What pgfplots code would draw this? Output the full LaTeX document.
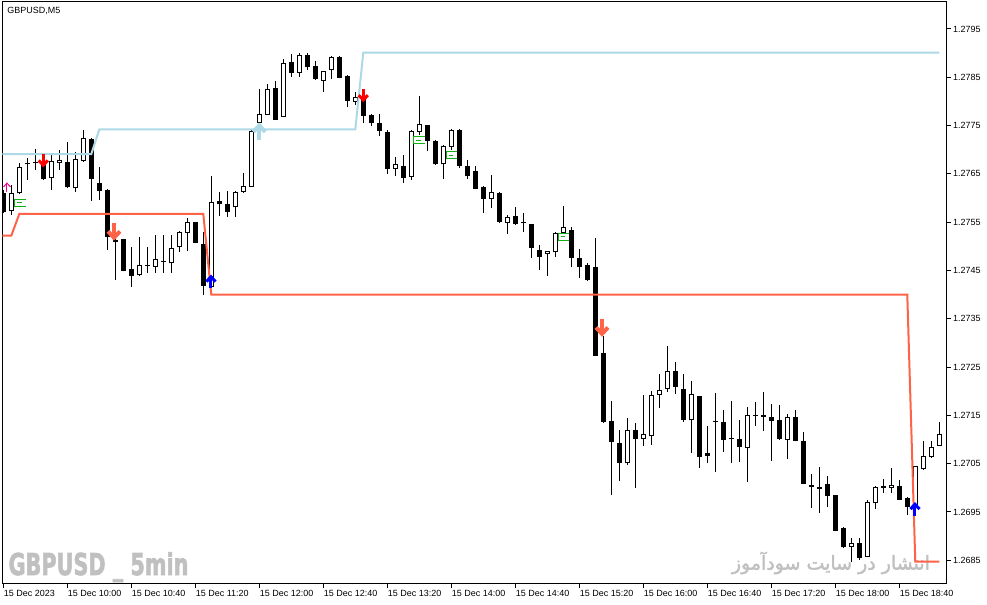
\documentclass[border=0pt]{standalone}
\usepackage{pgfplots}
\pgfplotsset{compat=1.18}
\usepackage{pgfplotstable}
\usepackage{graphicx}
\usepackage{fontspec}
\setmainfont{Liberation Sans}
\newfontfamily\arabicfont[Script=Arabic,FakeBold=2]{DejaVu Sans}
\newfontfamily\wmfont[BoldFeatures={FakeBold=2.5}]{DejaVu Sans}
\TeXXeTstate=1
\definecolor{lblue}{HTML}{ADD8E6}
\definecolor{tomatoc}{HTML}{FF6347}
\definecolor{wmgray}{HTML}{C0C0C0}
\definecolor{mkgreen}{HTML}{10B010}

\pgfdeclareplotmark{mtdown}{%
  \pgfpathmoveto{\pgfqpoint{0pt}{\pgfplotmarksize}}%
  \pgfpathlineto{\pgfqpoint{0pt}{-0.7\pgfplotmarksize}}%
  \pgfusepathqstroke
  \pgfpathmoveto{\pgfqpoint{-0.7\pgfplotmarksize}{0pt}}%
  \pgfpathlineto{\pgfqpoint{0pt}{-0.75\pgfplotmarksize}}%
  \pgfpathlineto{\pgfqpoint{0.7\pgfplotmarksize}{0pt}}%
  \pgfusepathqstroke}
\pgfdeclareplotmark{mtup}{%
  \pgfpathmoveto{\pgfqpoint{0pt}{-\pgfplotmarksize}}%
  \pgfpathlineto{\pgfqpoint{0pt}{0.7\pgfplotmarksize}}%
  \pgfusepathqstroke
  \pgfpathmoveto{\pgfqpoint{-0.7\pgfplotmarksize}{0pt}}%
  \pgfpathlineto{\pgfqpoint{0pt}{0.75\pgfplotmarksize}}%
  \pgfpathlineto{\pgfqpoint{0.7\pgfplotmarksize}{0pt}}%
  \pgfusepathqstroke}
\pgfdeclareplotmark{mtbracket}{%
  \pgfpathmoveto{\pgfqpoint{5.5bp}{3.5bp}}%
  \pgfpathlineto{\pgfqpoint{-5.5bp}{3.5bp}}%
  \pgfpathlineto{\pgfqpoint{-5.5bp}{-3.5bp}}%
  \pgfpathlineto{\pgfqpoint{5.5bp}{-3.5bp}}%
  \pgfpathmoveto{\pgfqpoint{-3bp}{0bp}}%
  \pgfpathlineto{\pgfqpoint{1.5bp}{0bp}}%
  \pgfusepathqstroke}

\pgfplotstableread{
i o h l c
0 1.27610 1.27617 1.27569 1.27571
1 1.27573 1.27627 1.27565 1.27610
2 1.27610 1.27673 1.27608 1.27664
3 1.27670 1.27683 1.27637 1.27670
4 1.27672 1.27702 1.27658 1.27672
5 1.27675 1.27691 1.27637 1.27639
6 1.27641 1.27691 1.27617 1.27677
7 1.27672 1.27699 1.27658 1.27679
8 1.27675 1.27716 1.27621 1.27623
9 1.27621 1.27695 1.27612 1.27681
10 1.27677 1.27741 1.27675 1.27724
11 1.27722 1.27724 1.27594 1.27639
12 1.27631 1.27664 1.27596 1.27615
13 1.27617 1.27618 1.27492 1.27519
14 1.27509 1.27528 1.27430 1.27513
15 1.27515 1.27516 1.27448 1.27449
16 1.27453 1.27499 1.27416 1.27439
17 1.27441 1.27519 1.27439 1.27461
18 1.27459 1.27499 1.27445 1.27459
19 1.27457 1.27523 1.27445 1.27474
20 1.27468 1.27523 1.27445 1.27468
21 1.27465 1.27523 1.27445 1.27497
22 1.27499 1.27531 1.27488 1.27530
23 1.27528 1.27559 1.27490 1.27550
24 1.27550 1.27551 1.27506 1.27507
25 1.27505 1.27530 1.27399 1.27418
26 1.27416 1.27646 1.27414 1.27592
27 1.27594 1.27612 1.27563 1.27588
28 1.27588 1.27615 1.27561 1.27571
29 1.27581 1.27615 1.27561 1.27612
30 1.27612 1.27652 1.27610 1.27625
31 1.27623 1.27740 1.27622 1.27739
32 1.27755 1.27826 1.27754 1.27774
33 1.27772 1.27836 1.27771 1.27826
34 1.27828 1.27842 1.27761 1.27762
35 1.27768 1.27888 1.27767 1.27880
36 1.27882 1.27898 1.27851 1.27859
37 1.27859 1.27900 1.27851 1.27896
38 1.27896 1.27900 1.27865 1.27871
39 1.27873 1.27884 1.27845 1.27846
40 1.27842 1.27864 1.27820 1.27863
41 1.27865 1.27894 1.27846 1.27892
42 1.27892 1.27894 1.27848 1.27849
43 1.27853 1.27854 1.27788 1.27801
44 1.27799 1.27820 1.27793 1.27809
45 1.27809 1.27820 1.27755 1.27770
46 1.27772 1.27774 1.27749 1.27755
47 1.27755 1.27774 1.27728 1.27739
48 1.27737 1.27741 1.27650 1.27660
49 1.27660 1.27685 1.27646 1.27670
50 1.27666 1.27689 1.27631 1.27641
51 1.27644 1.27740 1.27637 1.27739
52 1.27737 1.27811 1.27731 1.27753
53 1.27751 1.27752 1.27697 1.27718
54 1.27718 1.27720 1.27669 1.27670
55 1.27670 1.27709 1.27639 1.27708
56 1.27706 1.27743 1.27699 1.27741
57 1.27741 1.27742 1.27662 1.27666
58 1.27666 1.27679 1.27639 1.27646
59 1.27656 1.27666 1.27618 1.27619
60 1.27623 1.27625 1.27569 1.27598
61 1.27598 1.27648 1.27579 1.27612
62 1.27610 1.27612 1.27548 1.27550
63 1.27548 1.27565 1.27526 1.27561
64 1.27563 1.27581 1.27545 1.27546
65 1.27548 1.27569 1.27530 1.27548
66 1.27546 1.27547 1.27476 1.27497
67 1.27492 1.27503 1.27451 1.27478
68 1.27484 1.27491 1.27439 1.27490
69 1.27488 1.27529 1.27478 1.27528
70 1.27528 1.27584 1.27527 1.27540
71 1.27534 1.27540 1.27457 1.27476
72 1.27476 1.27494 1.27434 1.27457
73 1.27461 1.27465 1.27428 1.27430
74 1.27457 1.27517 1.27272 1.27273
75 1.27279 1.27314 1.27135 1.27136
76 1.27138 1.27180 1.26985 1.27095
77 1.27093 1.27120 1.27014 1.27051
78 1.27051 1.27145 1.27047 1.27120
79 1.27120 1.27134 1.27000 1.27101
80 1.27101 1.27192 1.27087 1.27111
81 1.27107 1.27200 1.27089 1.27192
82 1.27192 1.27236 1.27165 1.27203
83 1.27205 1.27294 1.27198 1.27242
84 1.27242 1.27261 1.27194 1.27209
85 1.27205 1.27236 1.27136 1.27140
86 1.27140 1.27221 1.27072 1.27194
87 1.27190 1.27191 1.27041 1.27064
88 1.27072 1.27128 1.27051 1.27066
89 1.27136 1.27196 1.27033 1.27136
90 1.27136 1.27161 1.27074 1.27099
91 1.27101 1.27180 1.27051 1.27101
92 1.27101 1.27140 1.27053 1.27085
93 1.27082 1.27167 1.27012 1.27151
94 1.27149 1.27178 1.27128 1.27149
95 1.27147 1.27198 1.27118 1.27151
96 1.27147 1.27174 1.27056 1.27138
97 1.27140 1.27171 1.27099 1.27101
98 1.27099 1.27153 1.27060 1.27147
99 1.27147 1.27161 1.27096 1.27097
100 1.27097 1.27116 1.27007 1.27008
101 1.27002 1.27029 1.26958 1.27006
102 1.27002 1.27043 1.26948 1.26998
103 1.27008 1.27024 1.26960 1.26983
104 1.26985 1.26986 1.26910 1.26911
105 1.26917 1.26918 1.26876 1.26877
106 1.26877 1.26896 1.26846 1.26886
107 1.26886 1.26896 1.26851 1.26855
108 1.26857 1.26975 1.26856 1.26971
109 1.26969 1.27003 1.26956 1.27002
110 1.27004 1.27018 1.26989 1.27000
111 1.27000 1.27041 1.26989 1.27006
112 1.27004 1.27016 1.26974 1.26975
113 1.26979 1.26981 1.26944 1.26960
114 1.26958 1.27046 1.26954 1.27045
115 1.27039 1.27097 1.27037 1.27066
116 1.27064 1.27097 1.27062 1.27085
117 1.27087 1.27136 1.27086 1.27111
}\candles

\begin{document}
\begin{tikzpicture}
\path[use as bounding box] (0bp,0bp) rectangle (987bp,-605bp);
% watermarks (behind the chart)
\node[anchor=base west, inner sep=0pt, text=wmgray] at (8.3bp,-575bp)
  {\scalebox{0.69}[1]{\wmfont\bfseries\fontsize{30.2}{32}\selectfont GBPUSD \_ 5min}};
\node[anchor=west, inner sep=0pt, text=wmgray] at (731.7bp,-563bp)
  {\resizebox{198bp}{!}{\arabicfont\beginR انتشار در سایت سودآموز\endR}};
\begin{axis}[
  at={(2.5bp,-583.5bp)}, anchor=south west,
  scale only axis, width=943.5bp, height=581.5bp,
  xmin=-0.1, xmax=117.84, ymin=1.2680192, ymax=1.2800586,
  axis line style={line width=1bp, black},
  tick align=outside, major tick length=4.5bp,
  every tick/.style={black, line width=1bp},
  xtick pos=bottom, ytick pos=right, yticklabel pos=right,
  xtick={0,8,16,24,32,40,48,56,64,72,80,88,96,104,112},
  xticklabels={15 Dec 2023,15 Dec 10:00,15 Dec 10:40,15 Dec 11:20,15 Dec 12:00,15 Dec 12:40,15 Dec 13:20,15 Dec 14:00,15 Dec 14:40,15 Dec 15:20,15 Dec 16:00,15 Dec 16:40,15 Dec 17:20,15 Dec 18:00,15 Dec 18:40},
  ytick={1.2685,1.2695,1.2705,1.2715,1.2725,1.2735,1.2745,1.2755,1.2765,1.2775,1.2785,1.2795},
  yticklabels={1.2685,1.2695,1.2705,1.2715,1.2725,1.2735,1.2745,1.2755,1.2765,1.2775,1.2785,1.2795},
  tick label style={font=\fontsize{9}{10}\selectfont},
  xticklabel style={anchor=north west, inner sep=0pt, xshift=0.5bp, yshift=-2bp},
  yticklabel style={anchor=west, inner sep=0pt, xshift=2.5bp},
  clip=true,
]
% wicks
\addplot[draw=none, mark=none, error bars/.cd, y dir=plus, y explicit, error mark=none,
  error bar style={draw=black, line width=1bp}]
  table[x=i, y=l, y error plus expr=\thisrow{h}-\thisrow{l}] {\candles};
% bodies (black outline / filled)
\addplot[draw=none, mark=none, error bars/.cd, y dir=plus, y explicit, error mark=none,
  error bar style={draw=black, line width=5bp}]
  table[x=i, y expr={min(\thisrow{o},\thisrow{c})}, y error plus expr={max(abs(\thisrow{c}-\thisrow{o}),0.000021)}] {\candles};
% hollow interiors of bullish candles
\addplot[draw=none, mark=none, restrict expr to domain={\thisrow{c}-\thisrow{o}}{0.00005:1},
  error bars/.cd, y dir=plus, y explicit, error mark=none,
  error bar style={draw=white, line width=3bp}]
  table[x=i, y expr={\thisrow{o}+0.0000207}, y error plus expr={\thisrow{c}-\thisrow{o}-0.0000414}] {\candles};
% indicator lines
\addplot[lblue, line width=2bp, mark=none] coordinates {
 (-0.5,1.27691) (11,1.27691) (12,1.27742) (44,1.27742) (45,1.27901) (117,1.27901)};
\addplot[tomatoc, line width=2bp, mark=none] coordinates {
 (-0.5,1.27522) (1,1.27522) (2,1.27567) (25,1.27567) (26,1.27400) (113,1.27400) (114,1.26847) (117,1.26847)};
% arrows
\addplot[only marks, red, mark=mtdown, mark size=6.5bp, mark options={line width=3bp, line join=miter, solid}]
  coordinates {(5,1.27678) (45,1.27813)};
\addplot[only marks, tomatoc, mark=mtdown, mark size=8.5bp, mark options={line width=4bp, line join=miter, solid}]
  coordinates {(13.84,1.27531) (74.84,1.27332)};
\addplot[only marks, blue, mark=mtup, mark size=6.5bp, mark options={line width=3bp, line join=miter, solid}]
  coordinates {(25.96,1.27427) (113.96,1.26956)};
\addplot[only marks, lblue, mark=mtup, mark size=8.5bp, mark options={line width=4bp, line join=miter, solid}]
  coordinates {(32,1.27737)};
\addplot[only marks, magenta, mark=mtup, mark size=5bp, mark options={line width=1bp, solid}]
  coordinates {(0.46,1.27623)};
\addplot[only marks, mkgreen, mark=mtbracket, mark options={line width=1bp, solid}]
  coordinates {(2.15,1.27590) (52,1.27720) (56.05,1.27689) (70.06,1.27520)};
\end{axis}
\node[anchor=base west, inner sep=0pt] at (7.3bp,-13.7bp) {\fontsize{9}{10}\selectfont GBPUSD,M5};
\end{tikzpicture}
\end{document}
